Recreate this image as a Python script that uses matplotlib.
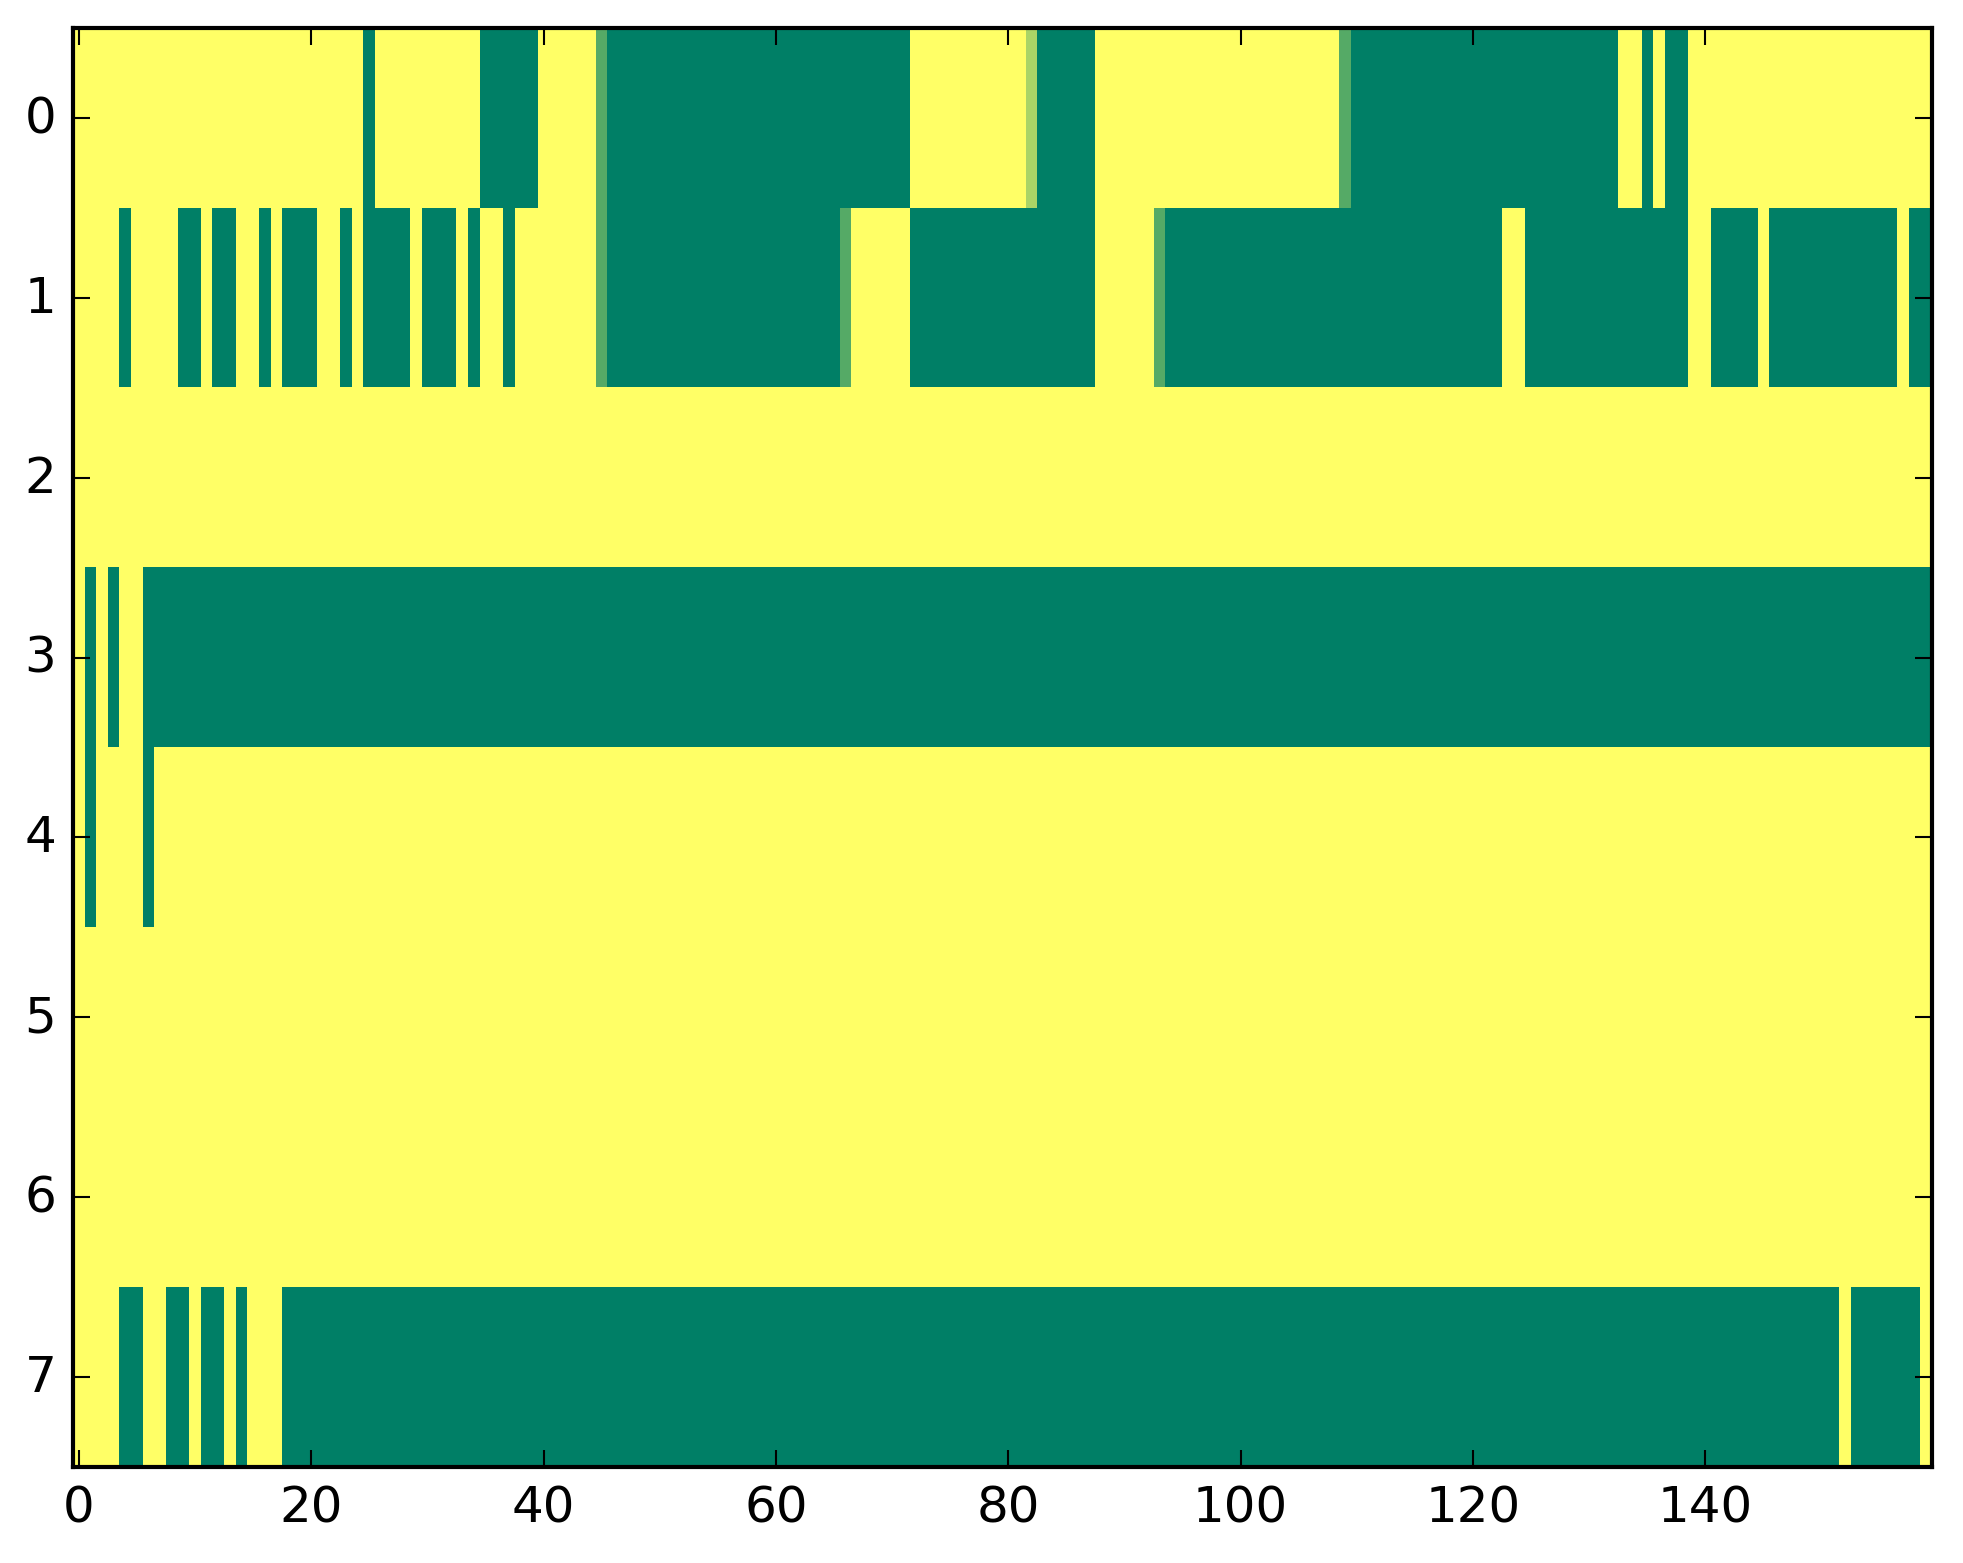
import numpy as np
import matplotlib
matplotlib.use("Agg")
import matplotlib.pyplot as plt

# run-length rows: (value, n_columns); 1 = yellow, 0 = green in 'summer'
ROW0 = [(1, 25), (0, 1), (1, 9), (0, 5), (1, 5), (1 / 3, 1), (0, 26), (1, 10),
        (2 / 3, 1), (0, 5), (1, 21), (1 / 3, 1), (0, 23), (1, 2), (0, 1), (1, 1),
        (0, 2), (1, 21)]
ROW1 = [(1, 4), (0, 1), (1, 4), (0, 2), (1, 1), (0, 2), (1, 2), (0, 1), (1, 1),
        (0, 3), (1, 2), (0, 1), (1, 1), (0, 4), (1, 1), (0, 3), (1, 1), (0, 1),
        (1, 2), (0, 1), (1, 7), (1 / 3, 1), (0, 20), (1 / 3, 1), (1, 5), (0, 16),
        (1, 5), (1 / 3, 1), (0, 29), (1, 2), (0, 14), (1, 2), (0, 4), (1, 1),
        (0, 11), (1, 1), (0, 2)]
ROW2 = [(1, 160)]
ROW3 = [(1, 1), (0, 1), (1, 1), (0, 1), (1, 2), (0, 154)]
ROW4 = [(1, 1), (0, 1), (1, 4), (0, 1), (1, 153)]
ROW5 = [(1, 160)]
ROW6 = [(1, 160)]
ROW7 = [(1, 4), (0, 2), (1, 2), (0, 2), (1, 1), (0, 2), (1, 1), (0, 1), (1, 3),
        (0, 134), (1, 1), (0, 6), (1, 1)]
ROWS = [ROW0, ROW1, ROW2, ROW3, ROW4, ROW5, ROW6, ROW7]


def expand(runs):
    vals = [v for v, _ in runs]
    counts = [n for _, n in runs]
    return np.repeat(vals, counts)


data = np.vstack([expand(r) for r in ROWS])

plt.style.use("classic")
fig = plt.figure(figsize=(1963 / 300, 1564 / 300), facecolor="white")
ax = fig.add_axes([0.0372, 0.0614, 0.947, 0.920])
ax.imshow(data, cmap="summer", vmin=0, vmax=1, aspect="auto",
          interpolation="nearest")
ax.set_xticks(range(0, 160, 20))
ax.set_yticks(range(8))
fig.savefig("out.png", dpi=300, facecolor="white")
